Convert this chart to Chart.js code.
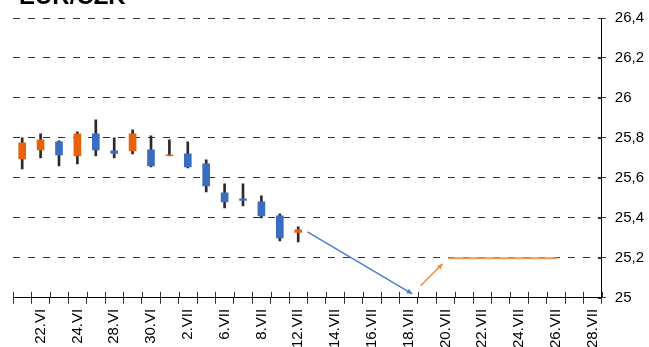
<!DOCTYPE html>
<html>
<head>
<meta charset="utf-8">
<title>EUR/CZK</title>
<script src="https://cdn.jsdelivr.net/npm/chart.js@4.4.0/dist/chart.umd.min.js"></script>
<style>
  html, body { margin: 0; padding: 0; background: #fff; overflow: hidden; }
  canvas { display: block; }
</style>
</head>
<body>
<canvas id="fxChart" width="649" height="347"></canvas>
<script>
// trading days on the category axis
const dates = ['21.VI','22.VI','23.VI','24.VI','25.VI','28.VI','29.VI','30.VI',
  '1.VII','2.VII','5.VII','6.VII','7.VII','8.VII','9.VII','12.VII',
  '13.VII','14.VII','15.VII','16.VII','17.VII','18.VII','19.VII','20.VII',
  '21.VII','22.VII','23.VII','24.VII','25.VII','26.VII','27.VII','28.VII'];

// daily candles (only first 16 days have data)
const openVals  = [25.695, 25.74, 25.78, 25.71, 25.82, 25.735, 25.735, 25.74, 25.711, 25.72, 25.67, 25.525, 25.495, 25.48, 25.41, 25.327];
const highVals  = [25.80, 25.82, 25.785, 25.83, 25.89, 25.80, 25.84, 25.81, 25.79, 25.78, 25.69, 25.57, 25.57, 25.51, 25.42, 25.355];
const lowVals   = [25.645, 25.70, 25.66, 25.67, 25.71, 25.70, 25.72, 25.655, 25.71, 25.65, 25.53, 25.45, 25.46, 25.40, 25.285, 25.28];
const closeVals = [25.775, 25.79, 25.715, 25.82, 25.74, 25.722, 25.82, 25.66, 25.716, 25.655, 25.56, 25.48, 25.487, 25.41, 25.30, 25.34];

// forecast arrows (x = day index on the axis)
const downArrowX = [15.5, 21.2];
const downArrowY = [25.33, 25.02];
const upArrowX = [21.65, 22.85];
const upArrowY = [25.06, 25.17];
const targetX = [23.17, 29.1];
const targetY = [25.198, 25.198];

const yTicks = [25, 25.2, 25.4, 25.6, 25.8, 26, 26.2, 26.4];

const UP = '#E8620C', DOWN = '#3A6DC0';
const FONT = "'Liberation Sans', Arial, sans-serif";

const bodies = openVals.map((o, i) => [o, closeVals[i]]);
const wicks = lowVals.map((l, i) => [l, highVals[i]]);
const bodyColors = openVals.map((o, i) => closeVals[i] >= o ? UP : DOWN);
const pts = (xs, ys) => xs.map((x, i) => ({x: x, y: ys[i]}));

// tick marks that cross the axes + title + arrow heads
const extras = {
  id: 'extras',
  afterDatasetsDraw(chart) {
    const ctx = chart.ctx, ys = chart.scales.y;
    const area = chart.chartArea;
    ctx.save();
    ctx.strokeStyle = '#333';
    ctx.lineWidth = 1;
    const n = chart.data.labels.length;
    for (let i = 0; i <= n; i++) {
      const px = Math.round(area.left + i * (area.right - area.left) / n) + 0.5;
      ctx.beginPath();
      ctx.moveTo(px, area.bottom - 6);
      ctx.lineTo(px, area.bottom);
      ctx.stroke();
    }
    yTicks.forEach(v => {
      const py = Math.round(ys.getPixelForValue(v)) + 0.5;
      ctx.beginPath();
      ctx.moveTo(area.right - 4, py);
      ctx.lineTo(area.right, py);
      ctx.stroke();
    });
    // arrow heads
    chart.data.datasets.forEach((ds, di) => {
      if (!ds.arrow) return;
      const meta = chart.getDatasetMeta(di);
      const p = meta.data[meta.data.length - 1], q = meta.data[meta.data.length - 2];
      const a = Math.atan2(p.y - q.y, p.x - q.x);
      ctx.fillStyle = ds.borderColor;
      ctx.beginPath();
      ctx.moveTo(p.x, p.y);
      ctx.lineTo(p.x - 6 * Math.cos(a - 0.45), p.y - 6 * Math.sin(a - 0.45));
      ctx.lineTo(p.x - 6 * Math.cos(a + 0.45), p.y - 6 * Math.sin(a + 0.45));
      ctx.closePath();
      ctx.fill();
    });
    ctx.fillStyle = '#000';
    ctx.font = 'bold 24px ' + FONT;
    ctx.textBaseline = 'alphabetic';
    ctx.fillText('EUR/CZK', 19, 4);
    ctx.restore();
  }
};

new Chart(document.getElementById('fxChart'), {
  data: {
    labels: dates,
    datasets: [
      {type: 'bar', label: 'body', data: bodies, backgroundColor: bodyColors,
       barThickness: 7, grouped: false, order: 1},
      {type: 'bar', label: 'wick', data: wicks, backgroundColor: '#2a2a2a',
       barThickness: 2, grouped: false, order: 2},
      {type: 'line', label: 'down', xAxisID: 'x2', data: pts(downArrowX, downArrowY),
       borderColor: '#4A7ED0', borderWidth: 1.5, pointRadius: 0, arrow: true, order: 0},
      {type: 'line', label: 'up', xAxisID: 'x2', data: pts(upArrowX, upArrowY),
       borderColor: '#F28A3A', borderWidth: 1.5, pointRadius: 0, arrow: true, order: 0},
      {type: 'line', label: 'target', xAxisID: 'x2', data: pts(targetX, targetY),
       borderColor: '#F39A55', borderWidth: 2, pointRadius: 0, order: 0}
    ]
  },
  options: {
    responsive: false,
    animation: false,
    layout: {padding: {left: 13, right: -4, top: 16, bottom: -6}},
    plugins: {legend: {display: false}, tooltip: {enabled: false}, title: {display: false}},
    scales: {
      x: {
        type: 'category',
        offset: true,
        grid: {offset: true, drawOnChartArea: false, tickLength: 6, color: '#333'},
        border: {display: true, color: '#000', width: 1},
        ticks: {
          autoSkip: false, minRotation: 90, maxRotation: 90, padding: 5,
          color: '#000', font: {family: FONT, size: 15},
          callback: function(v, i) { return i % 2 === 1 ? this.getLabelForValue(v) : ''; }
        }
      },
      x2: {type: 'linear', display: false, min: -0.5, max: 31.5},
      y: {
        position: 'right',
        min: 25, max: 26.4,
        afterBuildTicks: axis => { axis.ticks = yTicks.map(v => ({value: v})); },
        grid: {color: '#333', lineWidth: 1, tickLength: 4, tickBorderDash: [], tickColor: '#333'},
        border: {display: true, color: '#000', width: 1, dash: [7, 8]},
        ticks: {
          autoSkip: false, padding: 9, color: '#000', font: {family: FONT, size: 15},
          callback: v => String(Math.round(v * 10) / 10).replace('.', ',')
        }
      }
    }
  },
  plugins: [extras]
});
</script>
</body>
</html>
